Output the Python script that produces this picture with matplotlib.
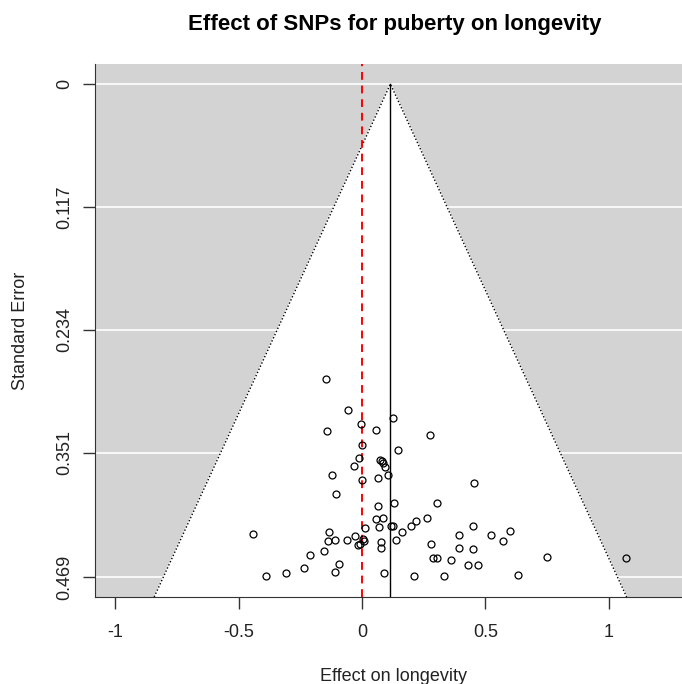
import numpy as np
import matplotlib
matplotlib.use("Agg")
from matplotlib import pyplot as plt

# effect estimates (x) and their standard errors (y)
effect = [-0.147, -0.055, -0.005, 0.126, -0.142, 0.057, 0.274, 0.001, 0.145, -0.012,
          0.073, 0.080, 0.086, 0.094, -0.031, -0.123, 0.064, 0.106, 0.001, 0.455,
          -0.104, 0.064, 0.131, 0.305, 0.057, 0.084, 0.013, 0.069, 0.117, 0.127,
          0.163, 0.200, 0.219, 0.262, 0.448, -0.440, -0.135, -0.136, -0.109, -0.062,
          -0.028, -0.015, -0.008, 0.008, 0.005, 0.077, 0.077, 0.138, 0.391, 0.279,
          0.391, 0.448, -0.211, -0.153, 0.289, 0.305, 0.360, -0.235, -0.092, -0.109,
          -0.309, -0.389, 0.088, 0.212, 0.331, 0.428, 0.471, 0.522, 0.598, 0.572,
          0.750, 1.068, 0.633]
se = [0.281, 0.310, 0.323, 0.318, 0.330, 0.329, 0.334, 0.343, 0.348, 0.356,
      0.358, 0.359, 0.361, 0.364, 0.363, 0.372, 0.375, 0.372, 0.377, 0.380,
      0.390, 0.401, 0.399, 0.399, 0.414, 0.413, 0.422, 0.421, 0.420, 0.420,
      0.426, 0.420, 0.416, 0.413, 0.420, 0.428, 0.426, 0.435, 0.434, 0.434,
      0.430, 0.439, 0.438, 0.435, 0.433, 0.436, 0.441, 0.434, 0.429, 0.438,
      0.441, 0.442, 0.448, 0.444, 0.451, 0.451, 0.453, 0.460, 0.457, 0.464,
      0.465, 0.468, 0.465, 0.468, 0.468, 0.458, 0.458, 0.429, 0.425, 0.435,
      0.450, 0.451, 0.467]

pooled = 0.115
xticks = [-1, -0.5, 0, 0.5, 1]
xtick_labels = ["-1", "-0.5", "0", "0.5", "1"]
yticks = [0, 0.117, 0.234, 0.351, 0.469]
ytick_labels = ["0", "0.117", "0.234", "0.351", "0.469"]

plt.rcParams['font.family'] = ['Liberation Sans', 'DejaVu Sans']

fig = plt.figure(figsize=(6.82, 6.84), dpi=100)
ax = fig.add_axes([95 / 682, 1 - 597 / 684, (691 - 95) / 682, (597 - 64) / 684])

xlim = (-1.081, 1.332)
ylim = (0.488, -0.019)
ax.set_xlim(xlim)
ax.set_ylim(ylim)
ax.set_facecolor('#D3D3D3')

# white grid lines at the se ticks
for y in yticks:
    ax.axhline(y, color='white', lw=1.2, zorder=1)

# funnel (95% pseudo confidence region)
ybot = ylim[0]
fx = [pooled - 1.96 * ybot, pooled, pooled + 1.96 * ybot]
fy = [ybot, 0, ybot]
ax.fill(fx, fy, color='white', zorder=2)
ax.plot(fx, fy, color='black', lw=1, ls=(0, (1, 1.5)), zorder=3)
ax.plot([pooled, pooled], [0, ybot], color='black', lw=1, zorder=3)

ax.axvline(0, color='red', lw=1.4, ls=(0, (4, 3)), zorder=4)

ax.plot(effect, se, 'o', mfc='none', mec='black', ms=5, mew=0.9, zorder=5)

ax.spines['top'].set_visible(False)
ax.spines['right'].set_visible(False)
ax.spines['left'].set_color('#333333')
ax.spines['bottom'].set_color('#333333')

ax.set_xticks(xticks)
ax.set_xticklabels(xtick_labels)
ax.set_yticks(yticks)
ax.set_yticklabels(ytick_labels, rotation=90, va='center')
ax.tick_params(length=8.5, width=1, labelsize=13, color='#333333', labelcolor='#222222')
ax.tick_params(axis='x', pad=11)
ax.tick_params(axis='y', pad=7.5)

ax.set_xlabel('Effect on longevity', fontsize=13, color='#222222')
ax.xaxis.set_label_coords(0.5, -0.133)
ax.set_ylabel('Standard Error', fontsize=13, color='#222222')
ax.yaxis.set_label_coords(-0.110, 0.5)

fig.text(395 / 682, 1 - 30 / 684, 'Effect of SNPs for puberty on longevity',
         ha='center', va='baseline', fontsize=16, fontweight='bold')

plt.savefig('out.png', dpi=100)
